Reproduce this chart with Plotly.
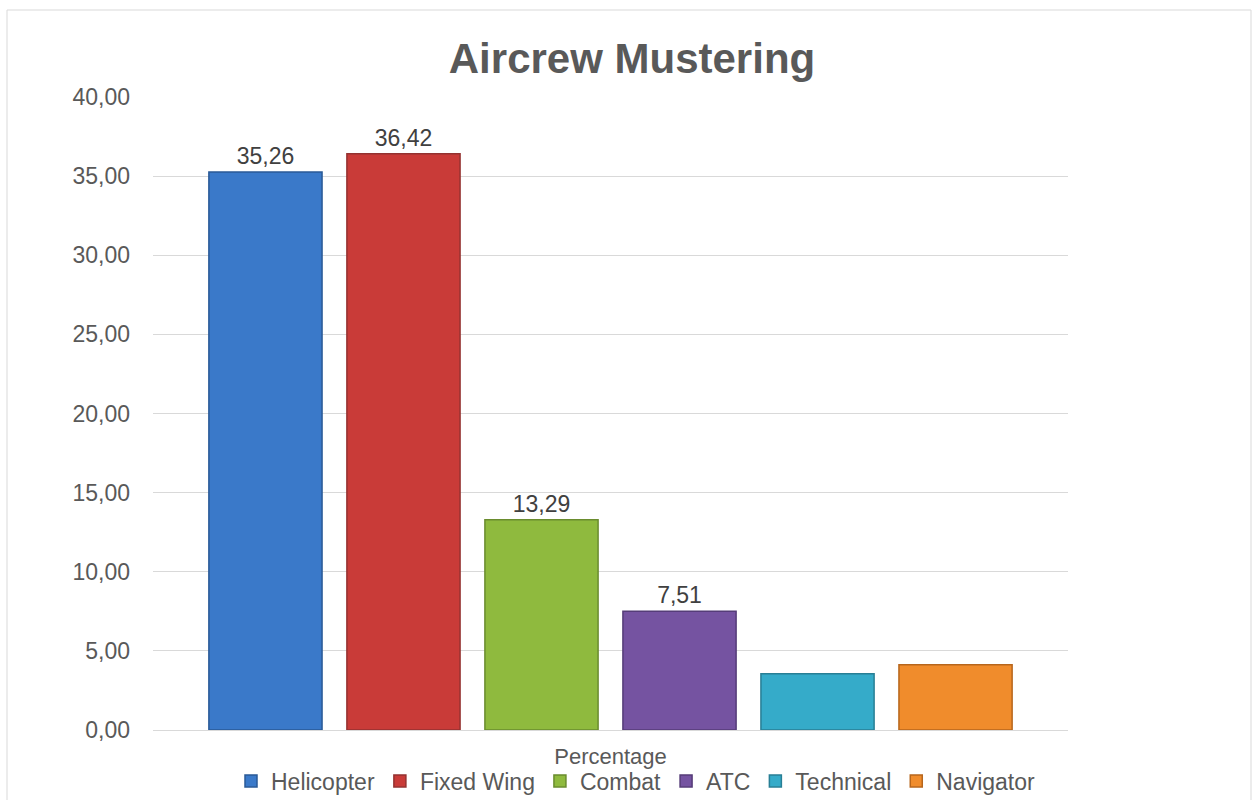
import plotly.graph_objects as go

category = ["Percentage"]
series_names = ["Helicopter", "Fixed Wing", "Combat", "ATC", "Technical", "Navigator"]
values = [35.26, 36.42, 13.29, 7.51, 3.55, 4.12]
show_label = [True, True, True, True, False, False]
colors = ["#3a79c9", "#c93b38", "#8fba3e", "#7553a1", "#35abc9", "#f08c2c"]
borders = ["#2a5a96", "#943230", "#6a8c2e", "#553c78", "#287f95", "#b7661c"]
yticks = [0, 5, 10, 15, 20, 25, 30, 35, 40]

FONT = "Liberation Sans, Arial"
fig = go.Figure()
for name, v, lab, c, b in zip(series_names, values, show_label, colors, borders):
    fig.add_trace(go.Bar(
        name=name, x=category, y=[v],
        marker=dict(color=c, line=dict(color=b, width=1.5)),
        text=[f"{v:.2f}".replace(".", ",")] if lab else None,
        textposition="outside", cliponaxis=False,
        textfont=dict(size=23, color="#404040", family=FONT),
    ))

fig.update_layout(
    width=1252, height=800,
    paper_bgcolor="white", plot_bgcolor="white",
    separators=",.",
    barmode="group", bargap=0.095, bargroupgap=0.18,
    margin=dict(l=153, r=184, t=97, b=70, autoexpand=False),
    font=dict(family=FONT, size=23, color="#595959"),
    title=dict(text="<b>Aircrew Mustering</b>", x=632 / 1252, xref="container", xanchor="center",
               y=1 - 58 / 800, yref="container", yanchor="middle",
               font=dict(size=42, color="#595959", family=FONT)),
    xaxis=dict(showline=True, linecolor="#d9d9d9", linewidth=1, ticks="",
               tickfont=dict(size=22, color="#595959"), ticklabelstandoff=7),
    yaxis=dict(range=[0, 40], tickvals=yticks, tickformat=".2f",
               showgrid=True, gridcolor="#d9d9d9", gridwidth=1,
               zeroline=False, showline=False, ticks="", ticklabelstandoff=22,
               tickfont=dict(size=23, color="#595959")),
    legend=dict(orientation="h", x=636 / 1252, xref="container", xanchor="center",
                y=19 / 800, yref="container", yanchor="middle",
                bgcolor="rgba(0,0,0,0)",
                font=dict(size=23, color="#595959"),
                itemwidth=30, tracegroupgap=0),
    showlegend=True,
)
fig.add_shape(type="rect", xref="paper", yref="paper",
              x0=(7 - 153) / 915, x1=(1251 - 153) / 915,
              y0=(730 - 805) / 633, y1=(730 - 10) / 633,
              line=dict(color="#d9d9d9", width=1), fillcolor="rgba(0,0,0,0)", layer="below")

fig.write_html("out.html", config={"displayModeBar": False},
               post_script="document.body.style.margin='0';")
